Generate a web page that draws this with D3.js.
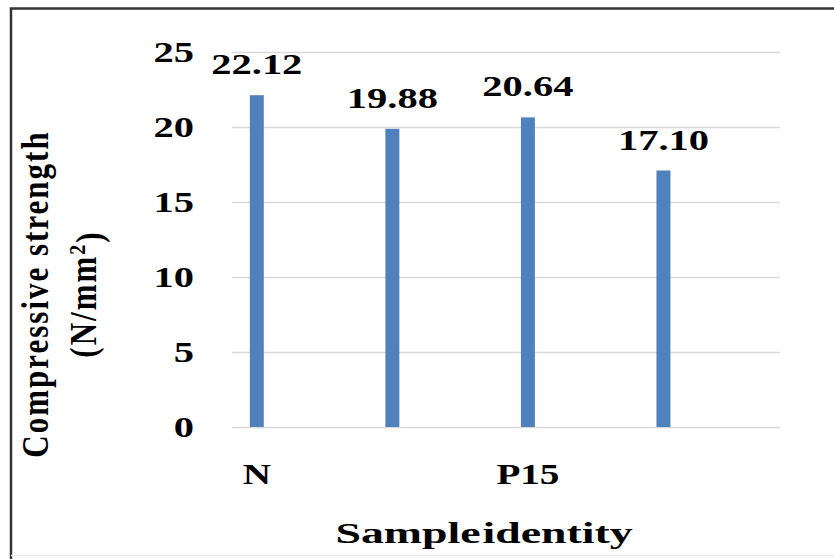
<!DOCTYPE html>
<html>
<head>
<meta charset="utf-8">
<script src="https://cdn.jsdelivr.net/npm/d3@7"></script>
<style>
body { margin: 0; background: #fff; }
svg text { font-family: "Liberation Serif", "Times New Roman", serif; font-weight: bold; fill: #000; }
</style>
</head>
<body>
<div class="visHolder"></div>
<script>
// data
var samples = ["N", "", "P15", ""];   // only N and P15 carry a label
var strength = [22.12, 19.88, 20.64, 17.10];
var yTicks = [0, 5, 10, 15, 20, 25];

var width = 834, height = 559;
var plotLeft = 232, plotRight = 780, plotTop = 52, plotBottom = 427;
var stretch = 1.35;   // the original text is wide, so stretch glyphs sideways
var barColor = "#4f81bd";

var svg = d3.select(".visHolder").append("svg")
    .attr("width", width)
    .attr("height", height);

svg.append("rect").attr("width", width).attr("height", height).attr("fill", "#fff");

// frame (only left and top are visible, bottom is faint)
svg.append("path")
    .attr("d", "M11," + height + " V8.5 H" + width)
    .attr("fill", "none")
    .attr("stroke", "#333")
    .attr("stroke-width", 2.5);
svg.append("line")
    .attr("x1", 11).attr("x2", width)
    .attr("y1", 555.5).attr("y2", 555.5)
    .attr("stroke", "#e6e6e6")
    .attr("stroke-width", 1.5);

var yScale = d3.scaleLinear()
    .domain([0, 25])
    .range([plotBottom, plotTop]);

var xScale = d3.scaleBand()
    .domain(d3.range(samples.length))
    .range([plotLeft, plotRight])
    .paddingInner(0.897)
    .paddingOuter(0.47)
    .align(0.14);

// y axis + gridlines
var yAxis = svg.append("g")
    .attr("transform", "translate(" + plotLeft + ",0)")
    .call(d3.axisLeft(yScale).tickValues(yTicks).tickSize(-(plotRight - plotLeft)).tickPadding(0));
yAxis.attr("font-family", null).attr("font-size", null);
yAxis.select(".domain").remove();
yAxis.selectAll(".tick line")
    .attr("stroke", "#d9d9d9")
    .attr("stroke-width", 1.5);
yAxis.selectAll(".tick text")
    .attr("x", -38 / stretch)
    .attr("dy", "0.33em")
    .attr("transform", "scale(" + stretch + ",1)")
    .style("font-size", "30px");

// x axis labels
var xAxis = svg.append("g")
    .attr("transform", "translate(0," + plotBottom + ")")
    .call(d3.axisBottom(xScale).tickFormat((i) => samples[i]).tickSize(0));
xAxis.attr("font-family", null).attr("font-size", null);
xAxis.select(".domain").remove();
xAxis.selectAll(".tick text")
    .attr("y", 57)
    .attr("dy", 0)
    .attr("transform", "scale(" + stretch + ",1)")
    .style("font-size", "29px");

// bars
svg.selectAll("rect.bar")
    .data(strength)
    .enter()
    .append("rect")
    .attr("class", "bar")
    .attr("x", (d, i) => xScale(i))
    .attr("y", (d) => yScale(d))
    .attr("width", xScale.bandwidth())
    .attr("height", (d) => yScale(0) - yScale(d))
    .attr("fill", barColor);

// value labels
svg.selectAll("g.val")
    .data(strength)
    .enter()
    .append("g")
    .attr("class", "val")
    .attr("transform", (d, i) => "translate(" + (xScale(i) + xScale.bandwidth() / 2) + "," + (yScale(d) - 21) + ") scale(" + stretch + ",1)")
    .append("text")
    .attr("text-anchor", "middle")
    .style("font-size", "30px")
    .text((d) => d.toFixed(2));

// y title, two lines
var yTitle = svg.append("g")
    .attr("transform", "translate(48,294) scale(1.2,1) rotate(-90)");
yTitle.append("text")
    .attr("text-anchor", "middle")
    .style("font-size", "31px")
    .style("letter-spacing", "2px")
    .text("Compressive strength");
var unit = yTitle.append("text")
    .attr("text-anchor", "middle")
    .attr("y", 40)
    .style("font-size", "31px")
    .style("letter-spacing", "2px");
unit.append("tspan").text("(N/mm");
unit.append("tspan").attr("dy", "-0.45em").style("font-size", "20px").text("2");
unit.append("tspan").attr("dy", "0.45em").text(")");

// x title
svg.append("g")
    .attr("transform", "translate(484,543) scale(1.58,1)")
    .append("text")
    .attr("text-anchor", "middle")
    .style("font-size", "29px")
    .style("word-spacing", "-6px")
    .text("Sample identity");
</script>
</body>
</html>
